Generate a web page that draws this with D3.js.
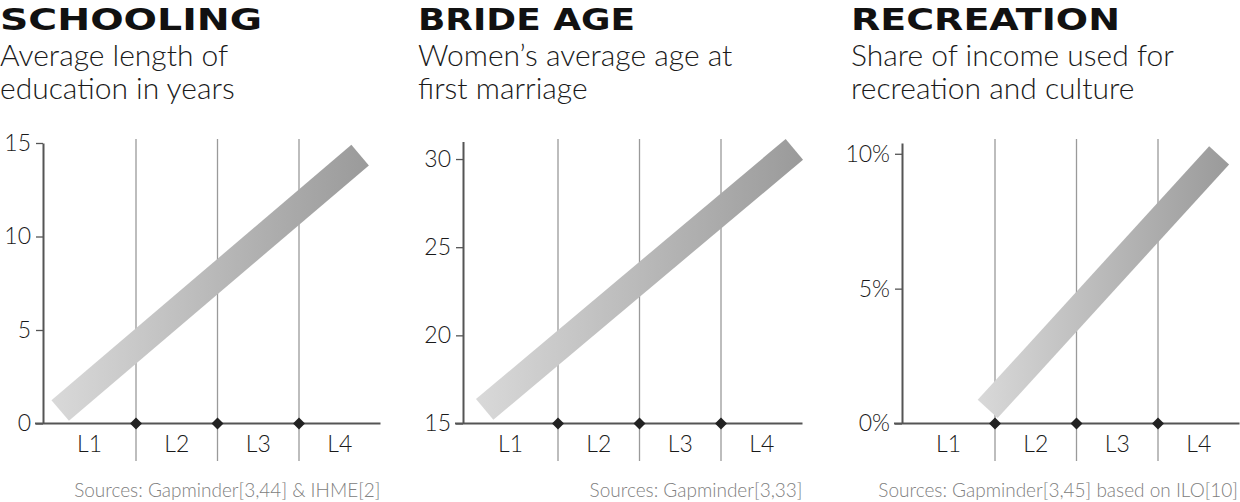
<!DOCTYPE html>
<html>
<head>
<meta charset="utf-8">
<script src="https://cdn.jsdelivr.net/npm/d3@7"></script>
<style>
  html, body { margin: 0; padding: 0; background: #fff; }
  svg { display: block; }
  .title { font-family: "DejaVu Sans", sans-serif; font-weight: bold; fill: #111; }
  .sub { font-family: Lato, "Open Sans", sans-serif; font-weight: 300; fill: #1a1a1a; }
  .tick text, .lvl { font-family: Lato, "Open Sans", sans-serif; font-weight: 300; fill: #1a1a1a; }
  .src { font-family: Lato, "Open Sans", sans-serif; font-weight: 300; fill: #808080; }
</style>
</head>
<body>
<svg id="chart" width="1240" height="502"></svg>
<script>
// Données
const levels = ["L1", "L2", "L3", "L4"];

const titles = ["SCHOOLING", "BRIDE AGE", "RECREATION"];
const subtitles = [
  ["Average length of", "education in years"],
  ["Women’s average age at", "first marriage"],
  ["Share of income used for", "recreation and culture"]
];
const sources = [
  "Sources: Gapminder[3,44] & IHME[2]",
  "Sources: Gapminder[3,33]",
  "Sources: Gapminder[3,45] based on ILO[10]"
];

const schoolingTicks = [0, 5, 10, 15];
const brideTicks = [15, 20, 25, 30];
const recreationTicks = [0, 5, 10];

// extrémités de la tendance : position en niveaux (0 = début de L1) et valeur
const schoolingTrend = [{ level: 0.07, value: 0.7 }, { level: 3.75, value: 14.35 }];
const brideTrend = [{ level: 0.10, value: 15.8 }, { level: 3.9, value: 30.55 }];
const recreationTrend = [{ level: 0.91, value: 0.54 }, { level: 3.75, value: 9.94 }];

// Mise en page des trois panneaux
const panels = [
  { left: 0,   axisX: 43,  x0: 54.5,  yTop: 143,   domain: [0, 15],   ticks: schoolingTicks,  fmt: d => d,       trend: schoolingTrend,  titleLen: 262 },
  { left: 418, axisX: 463, x0: 476.5, yTop: 141.4, domain: [15, 31],  ticks: brideTicks,      fmt: d => d,       trend: brideTrend,      titleLen: 217 },
  { left: 851, axisX: 902, x0: 913.5, yTop: 143,   domain: [0, 10.4], ticks: recreationTicks, fmt: d => d + "%", trend: recreationTrend, titleLen: 269 }
];
const step = 81.5;
const baseY = 423.5;

const svg = d3.select("#chart");
const defs = svg.append("defs");

panels.forEach((p, i) => {
  const g = svg.append("g");

  const x = d3.scaleLinear().domain([0, 4]).range([p.x0, p.x0 + 4 * step]);
  const y = d3.scaleLinear().domain(p.domain).range([baseY, p.yTop]);

  // Titre et sous-titre
  g.append("text")
    .attr("class", "title")
    .attr("x", p.left)
    .attr("y", 30)
    .attr("font-size", 31)
    .attr("textLength", p.titleLen)
    .attr("lengthAdjust", "spacingAndGlyphs")
    .text(titles[i]);

  subtitles[i].forEach((line, j) => {
    g.append("text")
      .attr("class", "sub")
      .attr("x", p.left)
      .attr("y", 66 + j * 33)
      .attr("font-size", 30)
      .text(line);
  });

  // Lignes verticales des niveaux
  g.append("g")
    .selectAll("line")
    .data([1, 2, 3])
    .enter()
    .append("line")
    .attr("x1", d => x(d))
    .attr("x2", d => x(d))
    .attr("y1", 139)
    .attr("y2", 461)
    .attr("stroke", "#9a9a9a")
    .attr("stroke-width", 1.3);

  // Dégradé de la bande de tendance
  const gradId = "grad" + i;
  const xs = p.trend.map(d => x(d.level));
  const grad = defs.append("linearGradient")
    .attr("id", gradId)
    .attr("gradientUnits", "userSpaceOnUse")
    .attr("x1", xs[0] - 14).attr("y1", 0)
    .attr("x2", xs[1] + 14).attr("y2", 0);
  grad.append("stop").attr("offset", "0%").attr("stop-color", "#dadada");
  grad.append("stop").attr("offset", "100%").attr("stop-color", "#999999");

  g.append("path")
    .datum(p.trend)
    .attr("d", d3.line().x(d => x(d.level)).y(d => y(d.value)))
    .attr("fill", "none")
    .attr("stroke", `url(#${gradId})`)
    .attr("stroke-width", 27)
    .attr("stroke-linecap", "butt");

  // Axe vertical
  const axis = d3.axisLeft(y)
    .tickValues(p.ticks)
    .tickFormat(p.fmt)
    .tickSize(7)
    .tickSizeOuter(0)
    .tickPadding(5);

  const ga = g.append("g")
    .attr("transform", `translate(${p.axisX},0)`)
    .call(axis);
  ga.select(".domain").attr("stroke", "#555").attr("stroke-width", 2);
  ga.selectAll(".tick line").attr("stroke", "#555").attr("stroke-width", 1.3);
  ga.selectAll(".tick text").attr("font-size", 23).attr("fill", "#1a1a1a");
  ga.attr("font-family", null);

  // Ligne de base
  g.append("line")
    .attr("x1", p.axisX - 8)
    .attr("x2", x(4))
    .attr("y1", baseY)
    .attr("y2", baseY)
    .attr("stroke", "#555")
    .attr("stroke-width", 2);

  // Losanges aux frontières
  g.append("g")
    .selectAll("path")
    .data([1, 2, 3])
    .enter()
    .append("path")
    .attr("d", d3.symbol().type(d3.symbolSquare).size(72))
    .attr("transform", d => `translate(${x(d)},${baseY}) rotate(45)`)
    .attr("fill", "#222");

  // Étiquettes des niveaux
  const mids = levels.map((l, k) => k === 0 ? (p.axisX + x(1)) / 2 : x(k + 0.5));
  g.append("g")
    .selectAll("text")
    .data(levels)
    .enter()
    .append("text")
    .attr("class", "lvl")
    .attr("x", (d, k) => mids[k])
    .attr("y", 452)
    .attr("text-anchor", "middle")
    .attr("font-size", 23)
    .text(d => d);

  // Sources
  g.append("text")
    .attr("class", "src")
    .attr("x", Math.min(x(4), 1238))
    .attr("y", 497)
    .attr("text-anchor", "end")
    .attr("font-size", 19)
    .text(sources[i]);
});
</script>
</body>
</html>
